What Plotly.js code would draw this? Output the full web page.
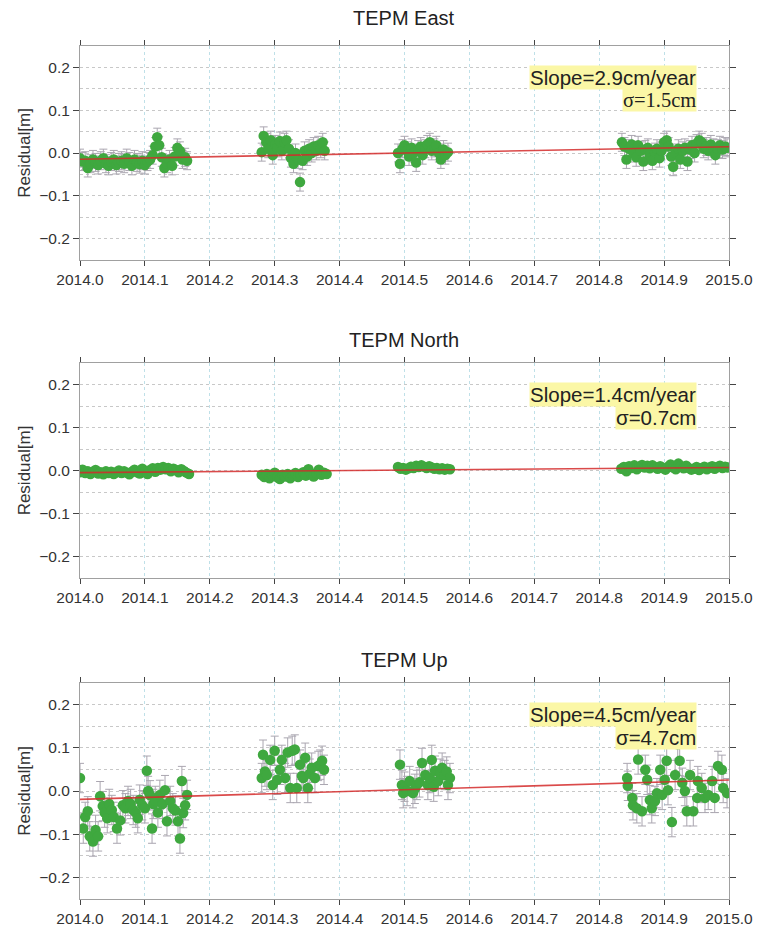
<!DOCTYPE html>
<html><head><meta charset="utf-8">
<script src="https://cdn.plot.ly/plotly-3.0.1.min.js"></script>
<style>html,body{margin:0;padding:0;background:#fff}#chart{width:760px;height:926px}</style>
</head><body><div id="chart"></div>
<script>
// ---------------- DATA ----------------
const titles = ['TEPM East', 'TEPM North', 'TEPM Up'];
const slopeLabels = ['Slope=2.9cm/year', 'Slope=1.4cm/year', 'Slope=4.5cm/year'];
const sigmaLabels = ['σ=1.5cm', 'σ=0.7cm', 'σ=4.7cm'];
const xTicks = [2014.0, 2014.1, 2014.2, 2014.3, 2014.4, 2014.5, 2014.6, 2014.7, 2014.8, 2014.9, 2015.0];
const yTicks = [-0.2, -0.1, 0.0, 0.1, 0.2];

const eastT = [
  2014.000,2014.004,2014.008,2014.012,2014.016,2014.020,2014.024,2014.028,2014.032,2014.036,2014.040,2014.044,2014.048,2014.052,2014.056,2014.060,2014.064,2014.068,2014.072,2014.076,2014.080,2014.084,2014.088,2014.092,2014.096,2014.100,2014.104,2014.108,2014.112,2014.116,2014.119,2014.122,2014.126,2014.130,2014.134,2014.138,2014.142,2014.146,2014.150,2014.154,2014.158,2014.162,2014.165,
  2014.280,2014.283,2014.287,2014.290,2014.294,2014.297,2014.301,2014.304,2014.308,2014.311,2014.315,2014.318,2014.322,2014.325,2014.329,2014.332,2014.336,2014.339,2014.343,2014.346,2014.350,2014.353,2014.357,2014.360,2014.364,2014.367,2014.371,2014.374,2014.377,
  2014.490,2014.493,2014.497,2014.500,2014.504,2014.507,2014.511,2014.514,2014.518,2014.521,2014.525,2014.528,2014.532,2014.535,2014.539,2014.542,2014.546,2014.549,2014.553,2014.556,2014.560,2014.563,2014.567,
  2014.835,2014.839,2014.842,2014.846,2014.850,2014.853,2014.857,2014.860,2014.864,2014.868,2014.871,2014.875,2014.878,2014.882,2014.886,2014.889,2014.893,2014.896,2014.900,2014.904,2014.907,2014.911,2014.914,2014.918,2014.922,2014.925,2014.929,2014.932,2014.936,2014.940,2014.943,2014.947,2014.950,2014.954,2014.958,2014.961,2014.965,2014.968,2014.972,2014.976,2014.979,2014.983,2014.986,2014.990,2014.994,2014.997
];
const eastV = [
  -0.012,-0.020,-0.018,-0.035,-0.025,-0.015,-0.022,-0.028,-0.018,-0.012,-0.025,-0.030,-0.020,-0.015,-0.028,-0.022,-0.018,-0.025,-0.012,-0.020,-0.030,-0.015,-0.022,-0.026,-0.018,-0.028,-0.020,-0.015,-0.005,0.015,0.037,0.018,-0.010,-0.035,-0.025,-0.015,-0.030,-0.008,0.012,0.005,-0.015,-0.010,-0.018,
  0.002,0.040,0.025,0.010,0.030,-0.005,0.020,0.012,0.028,0.005,0.025,0.030,0.010,-0.012,-0.025,0.000,-0.015,-0.068,-0.018,0.005,-0.008,0.010,0.000,0.015,0.005,0.018,0.010,0.025,0.005,
  0.000,-0.025,0.010,0.018,0.005,-0.008,0.012,0.000,-0.022,0.008,0.015,-0.005,0.010,0.020,0.025,0.005,0.012,0.018,0.000,-0.015,0.008,-0.005,0.002,
  0.025,0.015,-0.015,0.010,0.020,0.000,-0.010,0.018,0.005,-0.020,0.008,0.012,-0.005,-0.018,0.002,0.010,-0.012,0.005,0.025,0.030,0.015,-0.008,-0.032,0.000,0.010,-0.015,0.005,0.012,-0.020,0.008,0.018,0.000,0.022,0.030,0.025,0.010,0.015,0.005,0.020,0.012,-0.005,0.010,0.018,0.008,0.015,0.012
];

const northT = [
  2014.000,2014.004,2014.008,2014.012,2014.016,2014.020,2014.024,2014.028,2014.032,2014.036,2014.040,2014.044,2014.048,2014.052,2014.056,2014.060,2014.064,2014.068,2014.072,2014.076,2014.080,2014.084,2014.088,2014.092,2014.096,2014.100,2014.104,2014.108,2014.112,2014.116,2014.120,2014.124,2014.128,2014.132,2014.136,2014.140,2014.144,2014.148,2014.152,2014.156,2014.160,2014.164,2014.168,
  2014.280,2014.284,2014.288,2014.292,2014.296,2014.300,2014.304,2014.308,2014.312,2014.316,2014.320,2014.324,2014.328,2014.332,2014.336,2014.340,2014.344,2014.348,2014.352,2014.356,2014.360,2014.364,2014.368,2014.372,2014.376,2014.380,
  2014.490,2014.494,2014.498,2014.502,2014.506,2014.510,2014.514,2014.518,2014.522,2014.526,2014.530,2014.534,2014.538,2014.542,2014.546,2014.550,2014.554,2014.558,2014.562,2014.566,2014.570,
  2014.834,2014.838,2014.842,2014.846,2014.850,2014.854,2014.858,2014.862,2014.866,2014.870,2014.874,2014.878,2014.882,2014.886,2014.890,2014.894,2014.898,2014.902,2014.906,2014.910,2014.914,2014.918,2014.922,2014.926,2014.930,2014.934,2014.938,2014.942,2014.946,2014.950,2014.954,2014.958,2014.962,2014.966,2014.970,2014.974,2014.978,2014.982,2014.986,2014.990,2014.994,2014.998
];
const northV = [
  -0.004,0.002,-0.006,-0.002,-0.008,-0.003,0.001,-0.007,-0.004,-0.009,-0.002,-0.006,-0.003,-0.008,-0.004,0.000,-0.006,-0.002,-0.005,-0.009,-0.003,0.002,-0.004,-0.007,0.004,-0.002,-0.008,0.001,0.005,-0.003,0.006,0.002,0.008,0.003,0.006,-0.002,0.004,0.001,-0.004,0.003,-0.001,-0.005,-0.008,
  -0.010,-0.015,-0.008,-0.018,-0.012,-0.005,-0.016,-0.020,-0.010,-0.014,-0.008,-0.018,-0.012,-0.006,-0.015,-0.010,-0.004,-0.012,0.003,-0.008,-0.014,-0.006,0.002,-0.010,-0.005,-0.008,
  0.008,0.004,0.006,0.002,0.005,0.009,0.006,0.011,0.008,0.012,0.009,0.006,0.010,0.007,0.004,0.006,0.003,0.005,0.002,0.004,0.003,
  0.004,0.008,-0.002,0.010,0.006,0.012,0.003,0.009,0.013,0.007,0.011,0.005,0.012,0.008,0.004,0.010,0.006,0.002,0.009,0.014,0.007,0.003,0.016,0.010,0.005,0.011,0.006,0.002,0.004,0.008,0.001,0.005,0.009,0.003,0.007,0.010,0.004,0.008,0.011,0.006,0.009,0.007
];

const upT = [
  2014.000,2014.005,2014.008,2014.012,2014.015,2014.020,2014.024,2014.028,2014.031,2014.035,2014.038,2014.042,2014.045,2014.049,2014.052,2014.057,2014.062,2014.066,2014.070,2014.074,2014.078,2014.082,2014.086,2014.089,2014.092,2014.096,2014.100,2014.103,2014.105,2014.108,2014.111,2014.113,2014.116,2014.120,2014.123,2014.127,2014.131,2014.134,2014.139,2014.143,2014.147,2014.151,2014.154,2014.157,2014.159,2014.162,2014.165,
  2014.280,2014.282,2014.285,2014.288,2014.293,2014.297,2014.300,2014.304,2014.308,2014.311,2014.316,2014.320,2014.324,2014.327,2014.331,2014.334,2014.339,2014.342,2014.344,2014.347,2014.351,2014.354,2014.357,2014.362,2014.367,2014.370,2014.373,2014.376,
  2014.493,2014.496,2014.498,2014.500,2014.504,2014.508,2014.513,2014.516,2014.519,2014.523,2014.527,2014.532,2014.536,2014.539,2014.542,2014.545,2014.547,2014.552,2014.555,2014.558,2014.562,2014.565,2014.567,2014.570,
  2014.843,2014.844,2014.851,2014.852,2014.858,2014.860,2014.866,2014.871,2014.874,2014.878,2014.881,2014.886,2014.889,2014.894,2014.897,2014.901,2014.904,2014.906,2014.912,2014.917,2014.921,2014.924,2014.928,2014.932,2014.935,2014.940,2014.945,2014.951,2014.952,2014.958,2014.963,2014.968,2014.974,2014.978,2014.983,2014.989,2014.991,2014.997
];
const upV = [
  0.030,-0.087,-0.060,-0.047,-0.105,-0.117,-0.090,-0.105,-0.012,-0.035,-0.050,-0.063,-0.030,-0.044,-0.060,-0.087,-0.068,-0.033,-0.040,-0.023,-0.030,-0.044,-0.050,-0.063,-0.020,-0.033,-0.040,0.047,0.000,-0.010,-0.087,-0.030,-0.023,-0.050,-0.009,-0.030,0.002,-0.070,-0.023,-0.040,-0.045,-0.070,-0.110,0.023,-0.051,-0.033,-0.009,
  0.030,0.084,0.045,0.037,0.072,0.014,0.093,0.026,0.049,0.072,0.030,0.089,0.007,0.093,0.096,0.007,0.061,0.035,0.030,0.077,0.007,0.040,0.054,0.030,0.058,0.061,0.070,0.049,
  0.061,0.014,-0.005,0.010,0.000,0.023,-0.005,0.005,0.014,0.020,0.065,0.037,0.014,0.030,0.072,0.010,0.047,0.023,0.040,0.054,0.037,0.045,0.014,0.030,
  0.030,0.012,-0.016,-0.033,-0.040,0.073,-0.047,0.049,0.026,-0.021,-0.040,-0.023,-0.005,0.049,-0.009,0.026,0.070,0.002,-0.072,0.037,0.108,0.070,0.019,0.000,-0.047,0.037,-0.047,-0.016,0.023,0.007,-0.016,-0.009,0.023,-0.016,0.058,0.049,0.007,-0.005
];

const eastErr = 0.021, northErr = 0.007, upErr = 0.034;
const trendT = [2014.0, 2015.0];
const eastTrend = [-0.0145, 0.0145];
const northTrend = [-0.005, 0.007];
const upTrend = [-0.0195, 0.0255];

// ---------------- LAYOUT ----------------
const W = 760, H = 926;
const xL = 80, xR = 729;
const panels = [{top: 46, bot: 260}, {top: 363, bot: 578}, {top: 683, bot: 899}];
const titleY = [18, 340, 660];
const FONT = '"Liberation Sans", Arial, Helvetica, sans-serif';
const GREEN = '#3fa83f';
const series = [
  {t: eastT, v: eastV, err: eastErr, trend: eastTrend},
  {t: northT, v: northV, err: northErr, trend: northTrend},
  {t: upT, v: upV, err: upErr, trend: upTrend}
];

const data = [];
const layout = {
  width: W, height: H,
  margin: {l: 0, r: 0, t: 0, b: 0},
  paper_bgcolor: '#fff', plot_bgcolor: '#fff',
  showlegend: false,
  font: {family: FONT, color: '#333'},
  annotations: []
};

series.forEach((s, i) => {
  const n = i === 0 ? '' : String(i + 1);
  const xa = 'x' + n, ya = 'y' + n;
  data.push({
    type: 'scatter', mode: 'markers', x: s.t, y: s.v, xaxis: xa, yaxis: ya,
    marker: {color: GREEN, size: 10.5, line: {width: 0}},
    error_y: {type: 'constant', value: s.err, color: '#aaa6b0', thickness: 1, width: 4},
    hoverinfo: 'x+y'
  });
  data.push({
    type: 'scatter', mode: 'lines', x: trendT, y: s.trend, xaxis: xa, yaxis: ya,
    line: {color: '#d42a2a', width: 1.6}, opacity: 0.85, hoverinfo: 'skip'
  });
  const p = panels[i];
  layout['xaxis' + n] = {
    domain: [xL / W, xR / W], range: [2014, 2015], anchor: ya,
    tickvals: xTicks, tickformat: '.1f',
    showgrid: true, gridcolor: '#bfe0e8', griddash: 'dot', gridwidth: 1,
    showline: true, linecolor: '#a0a0a0', linewidth: 1, mirror: 'ticks',
    ticks: 'outside', ticklen: 5, tickcolor: '#444', tickwidth: 1,
    tickfont: {size: 15.5, color: '#333', family: FONT},
    zeroline: false, fixedrange: true
  };
  layout['yaxis' + n] = {
    domain: [1 - p.bot / H, 1 - p.top / H], range: [-0.25, 0.25], anchor: xa,
    tickvals: yTicks, tickformat: '.1f',
    showgrid: true, gridcolor: '#c8c8c8', griddash: 'dot', gridwidth: 1,
    minor: {dtick: 0.05, tick0: 0, showgrid: true, gridcolor: '#c8c8c8', griddash: 'dot', ticks: ''},
    showline: true, linecolor: '#a0a0a0', linewidth: 1, mirror: 'ticks',
    ticks: 'outside', ticklen: 6, tickcolor: '#444', tickwidth: 1,
    tickfont: {size: 15.5, color: '#333', family: FONT},
    title: {text: 'Residual[m]', font: {size: 17, color: '#333', family: FONT}, standoff: 4},
    zeroline: false, fixedrange: true
  };
  layout.annotations.push({
    xref: 'paper', yref: 'paper', x: (xL + xR) / 2 / W, y: 1 - titleY[i] / H,
    xanchor: 'center', yanchor: 'middle', showarrow: false,
    text: titles[i], font: {size: 20, color: '#222', family: FONT}
  });
  layout.annotations.push({
    xref: 'paper', yref: 'paper', x: 697 / W, y: 1 - (p.top + 19) / H,
    xanchor: 'right', yanchor: 'top', showarrow: false,
    text: slopeLabels[i], bgcolor: '#fbf7a6', borderpad: 0,
    font: {size: 20.5, color: '#222', family: FONT}
  });
  layout.annotations.push({
    xref: 'paper', yref: 'paper', x: 697 / W, y: 1 - (p.top + 42) / H,
    xanchor: 'right', yanchor: 'top', showarrow: false,
    text: sigmaLabels[i], bgcolor: '#fbf7a6', borderpad: 0,
    font: {size: 20.5, color: '#222', family: i === 0 ? '"Liberation Serif", "Times New Roman", serif' : FONT}
  });
});

Plotly.newPlot('chart', data, layout, {displayModeBar: false, staticPlot: true});
</script></body></html>
